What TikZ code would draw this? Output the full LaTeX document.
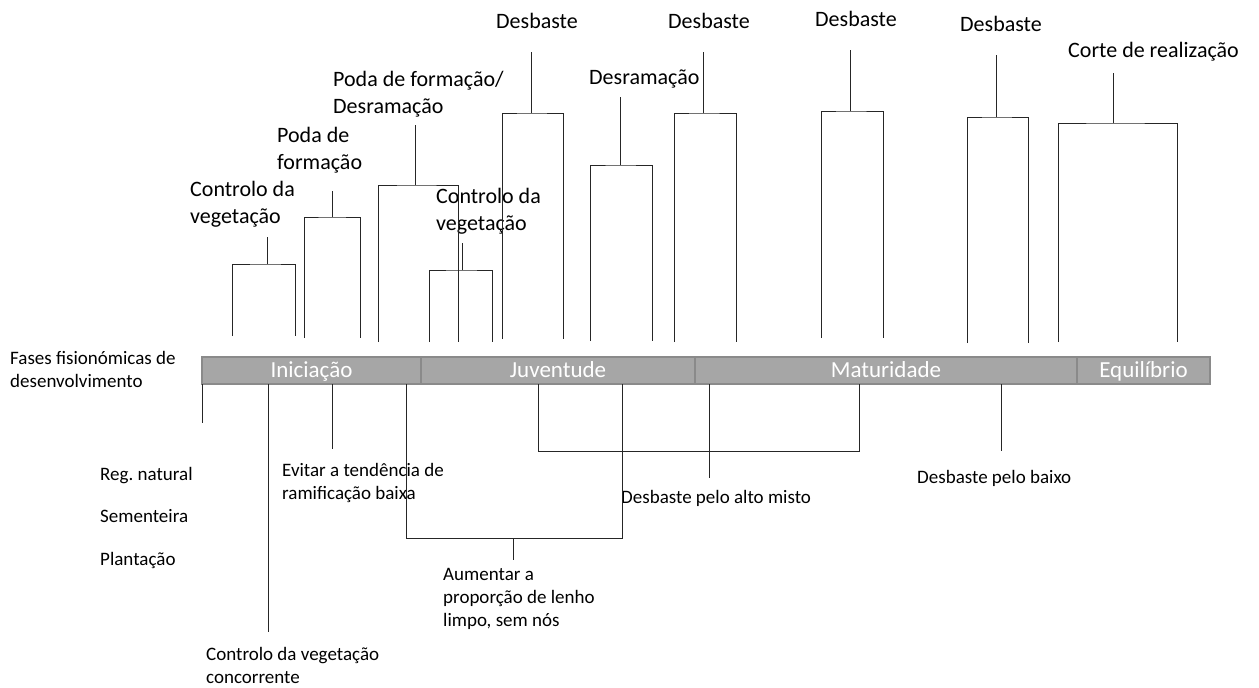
\documentclass[tikz,border=0pt]{standalone}
\usepackage{fontspec}
\setmainfont{Carlito}
\usetikzlibrary{positioning}
\definecolor{barfill}{HTML}{A6A6A6}
\definecolor{barline}{HTML}{8A8A8A}
\frenchspacing

\begin{document}
\begin{tikzpicture}[
  x=1pt, y=-1pt,
  phase/.style={draw=barline, fill=barfill, line width=1.5pt, outer sep=0pt, inner sep=0pt,
    text=white, font=\fontsize{23}{27}\selectfont, minimum height=27pt, text height=17pt, text depth=4pt},
  toplbl/.style={font=\fontsize{22}{27}\selectfont, align=left, inner sep=0pt},
  lowlbl/.style={font=\fontsize{19}{23}\selectfont, align=left, inner sep=0pt},
  lnk/.style={draw=black!85, line width=1pt}
]
\useasboundingbox (0,0) rectangle (1259,688);

% phases
\node[phase, minimum width=219pt] (ini) at (311.5,370.5) {Iniciação};
\node[phase, minimum width=274pt, right=0pt of ini] (juv) {Juventude};
\node[phase, minimum width=382pt, right=0pt of juv] (mat) {Maturidade};
\node[phase, minimum width=133pt, right=0pt of mat] (equ) {Equilíbrio};

% operations above the phases (base = last line)
\node[toplbl, anchor=base west] (ctrlA) at (190,223) {Controlo da\\vegetação};
\node[toplbl, anchor=base west] (podaA) at (277,169) {Poda de\\formação};
\node[toplbl, anchor=base west] (podaB) at (333,113) {Poda de formação/\\Desramação};
\node[toplbl, anchor=base west] (ctrlB) at (436,230) {Controlo da\\vegetação};
\node[toplbl, anchor=base] (desA) at (537,28) {Desbaste};
\node[toplbl, anchor=base west] (desr) at (589,84) {Desramação};
\node[toplbl, anchor=base] (desB) at (709,28) {Desbaste};
\node[toplbl, anchor=base] (desC) at (856,26) {Desbaste};
\node[toplbl, anchor=base] (desD) at (1001,31) {Desbaste};
\node[toplbl, anchor=base west] (corte) at (1068,57) {Corte de realização};

\foreach \nm/\xl/\xr/\yt/\yb/\xs/\ys in {ctrlA/232/295/264/336/267/237, podaA/304/360/217/338/332/191,
    podaB/378/458/185/342/415/125, ctrlB/429/492/270/342/462/243, desA/502/563/113/339/531/52,
    desr/590/652/165/341/620/97, desB/674/736/113/342/703/52, desC/821/883/111/338/850/50,
    desD/967/1028/117/343/996/55, corte/1058/1177/123/342/1113/73} {
  \coordinate (\nm-l) at (\xl,\yb);
  \coordinate (\nm-r) at (\xr,\yb);
  \coordinate (\nm-m) at (\xs,\yt);
  \coordinate (\nm-s) at (\xs,\ys);
  \draw[lnk] (\nm-l) |- (\nm-m) -| (\nm-r);
  \draw[lnk] (\nm-m) -- (\nm-s);
}

% texts below the phases
\node[lowlbl, anchor=base west] (fases) at (10,387) {Fases fisionómicas de\\desenvolvimento};
\node[lowlbl, anchor=base west] (reg) at (100,480) {Reg. natural};
\node[lowlbl, anchor=base west] (sem) at (100,522) {Sementeira};
\node[lowlbl, anchor=base west] (plant) at (100,565) {Plantação};
\node[lowlbl, anchor=base west] (ctrlC) at (206,683) {Controlo da vegetação\\concorrente};
\node[lowlbl, anchor=base west] (evitar) at (282,499) {Evitar a tendência de\\ramificação baixa};
\node[lowlbl, anchor=base west] (aument) at (443,626) {Aumentar a\\proporção de lenho\\limpo, sem nós};
\node[lowlbl, anchor=base west] (misto) at (621,503) {Desbaste pelo alto misto};
\node[lowlbl, anchor=base west] (baixo) at (917,483) {Desbaste pelo baixo};

\coordinate (orig) at (202,423);
\coordinate (ctrlC-s) at (268,632);
\coordinate (evitar-s) at (332,449);
\coordinate (baixo-s) at (1001,451);
\draw[lnk] (orig |- ini.south) -- (orig);
\draw[lnk] (ctrlC-s |- ini.south) -- (ctrlC-s);
\draw[lnk] (evitar-s |- ini.south) -- (evitar-s);
\draw[lnk] (baixo-s |- mat.south) -- (baixo-s);

\coordinate (aum-l) at (406,538);
\coordinate (aum-r) at (622,538);
\coordinate (aum-m) at (513,538);
\coordinate (aum-s) at (513,560);
\draw[lnk] (aum-l |- ini.south) -- (aum-l) -- (aum-r) -- (aum-r |- juv.south);
\draw[lnk] (aum-m) -- (aum-s);

\coordinate (mis-l) at (538,451);
\coordinate (mis-r) at (859,451);
\coordinate (mis-s) at (709,478);
\draw[lnk] (mis-l |- juv.south) -- (mis-l) -- (mis-r) -- (mis-r |- mat.south);
\draw[lnk] (mis-s |- mat.south) -- (mis-s);
\end{tikzpicture}
\end{document}
